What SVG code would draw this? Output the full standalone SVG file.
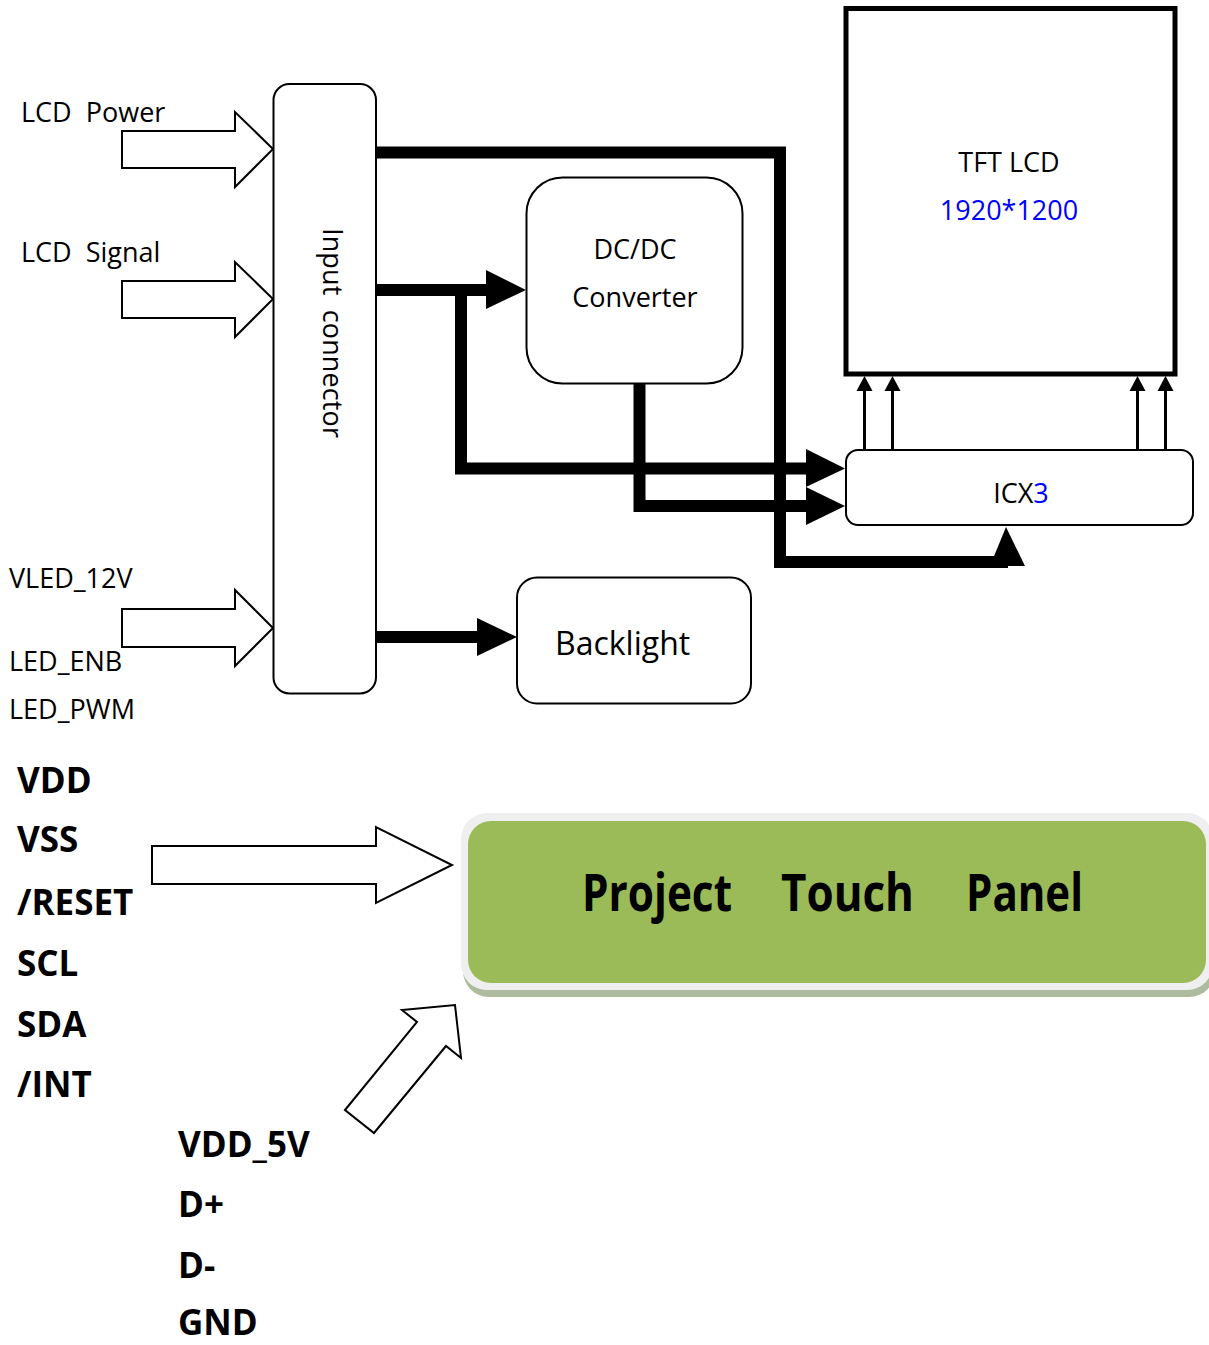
<svg xmlns="http://www.w3.org/2000/svg" width="1209" height="1345" viewBox="0 0 1209 1345">
<style>
.lbl{font-family:"Open Sans","Noto Sans","DejaVu Sans",sans-serif;font-size:27px;fill:#000}
.blue{fill:#0000ff}
.big{font-family:"Open Sans","Noto Sans","DejaVu Sans",sans-serif;font-size:35px;font-weight:bold;fill:#000}
.ptp{font-family:"Open Sans","Noto Sans","DejaVu Sans",sans-serif;font-size:52px;font-weight:bold;fill:#000}
.box{fill:#fff;stroke:#000;stroke-width:2}
.hollow{fill:#fff;stroke:#000;stroke-width:2;stroke-linejoin:miter}
.thick{fill:none;stroke:#000;stroke-width:12;stroke-linejoin:miter;stroke-linecap:butt}
.thin{fill:none;stroke:#000;stroke-width:3}
.head{fill:#000}
</style>
<rect width="1209" height="1345" fill="#fff"/>

<g id="connectors">
  <polygon class="hollow" points="122,131 235,131 235,112 273,149 235,187 235,168 122,168"/>
  <polygon class="hollow" points="122,281 235,281 235,262 273,299 235,337 235,318 122,318"/>
  <polygon class="hollow" points="122,609 235,609 235,590 273,628 235,666 235,647 122,647"/>
  <polygon class="hollow" points="152,846 376,846 376,827 452,865 376,903 376,884 152,884"/>
  <polygon class="hollow" points="345,1110 417,1022 402,1010 455,1005 461,1058 446,1046 374,1133"/>
  <path class="thick" d="M376,152.5 H780 V562 H1008"/>
  <polygon class="head" points="990,566 1025,566 1006,527"/>
  <path class="thick" d="M376,290 H488"/>
  <polygon class="head" points="486,270 526,290 486,309"/>
  <path class="thick" d="M461,290 V468.5 H808"/>
  <polygon class="head" points="806,449 845,468.5 806,487"/>
  <path class="thick" d="M639.5,384 V506 H808"/>
  <polygon class="head" points="806,487 845,506 806,525"/>
  <path class="thick" d="M376,637 H479"/>
  <polygon class="head" points="477,618 517,637 477,656"/>
  <path class="thin" d="M864.5,450 V388"/>
  <polygon class="head" points="864.5,376 856.5,391 872.5,391"/>
  <path class="thin" d="M892.5,450 V388"/>
  <polygon class="head" points="892.5,376 884.5,391 900.5,391"/>
  <path class="thin" d="M1137.5,450 V388"/>
  <polygon class="head" points="1137.5,376 1129.5,391 1145.5,391"/>
  <path class="thin" d="M1165.5,450 V388"/>
  <polygon class="head" points="1165.5,376 1157.5,391 1173.5,391"/>
</g>

<g id="input-connector">
  <rect class="box" x="273.5" y="84" width="102.5" height="609.5" rx="16"/>
  <text class="lbl" transform="translate(323,228) rotate(90)" textLength="210">Input&#160; connector</text>
</g>

<g id="dcdc">
  <rect class="box" x="526.5" y="177.5" width="216" height="206" rx="36"/>
  <text class="lbl" x="635" y="259" text-anchor="middle">DC/DC</text>
  <text class="lbl" x="635" y="307" text-anchor="middle">Converter</text>
</g>

<g id="tft-lcd">
  <rect x="846" y="8.5" width="329" height="365.5" fill="#fff" stroke="#000" stroke-width="5"/>
  <text class="lbl" x="1009" y="172" text-anchor="middle">TFT LCD</text>
  <text class="lbl blue" x="1009" y="220" text-anchor="middle">1920*1200</text>
</g>

<g id="icx3">
  <rect class="box" x="846" y="450" width="347" height="75" rx="12"/>
  <text class="lbl" x="1021" y="503" text-anchor="middle">ICX<tspan class="blue">3</tspan></text>
</g>

<g id="backlight">
  <rect class="box" x="517" y="577.5" width="234" height="126" rx="20"/>
  <text class="lbl" x="555" y="655" style="font-size:32px">Backlight</text>
</g>

<g id="touch-panel">
  <rect x="463" y="820" width="752" height="177" rx="26" fill="#aebb9f"/>
  <rect x="461" y="813" width="752" height="177" rx="26" fill="#efefef"/>
  <rect x="468" y="821" width="738" height="162" rx="23" fill="#9bbb59"/>
  <text class="ptp" x="582" y="911" textLength="150" lengthAdjust="spacingAndGlyphs">Project</text>
  <text class="ptp" x="781" y="911" textLength="133" lengthAdjust="spacingAndGlyphs">Touch</text>
  <text class="ptp" x="966" y="911" textLength="117" lengthAdjust="spacingAndGlyphs">Panel</text>
</g>

<g id="lcd-labels">
  <text class="lbl" x="21" y="122">LCD&#160; Power</text>
  <text class="lbl" x="21" y="262">LCD&#160; Signal</text>
  <text class="lbl" x="9" y="588">VLED_12V</text>
  <text class="lbl" x="9" y="671">LED_ENB</text>
  <text class="lbl" x="9" y="719">LED_PWM</text>
</g>

<g id="tp-labels-i2c">
  <text class="big" x="17" y="793">VDD</text>
  <text class="big" x="17" y="852">VSS</text>
  <text class="big" x="17" y="915">/RESET</text>
  <text class="big" x="17" y="976">SCL</text>
  <text class="big" x="17" y="1037">SDA</text>
  <text class="big" x="17" y="1097">/INT</text>
</g>

<g id="tp-labels-usb">
  <text class="big" x="178" y="1157">VDD_5V</text>
  <text class="big" x="178" y="1217">D+</text>
  <text class="big" x="178" y="1278">D-</text>
  <text class="big" x="178" y="1335">GND</text>
</g>
</svg>
